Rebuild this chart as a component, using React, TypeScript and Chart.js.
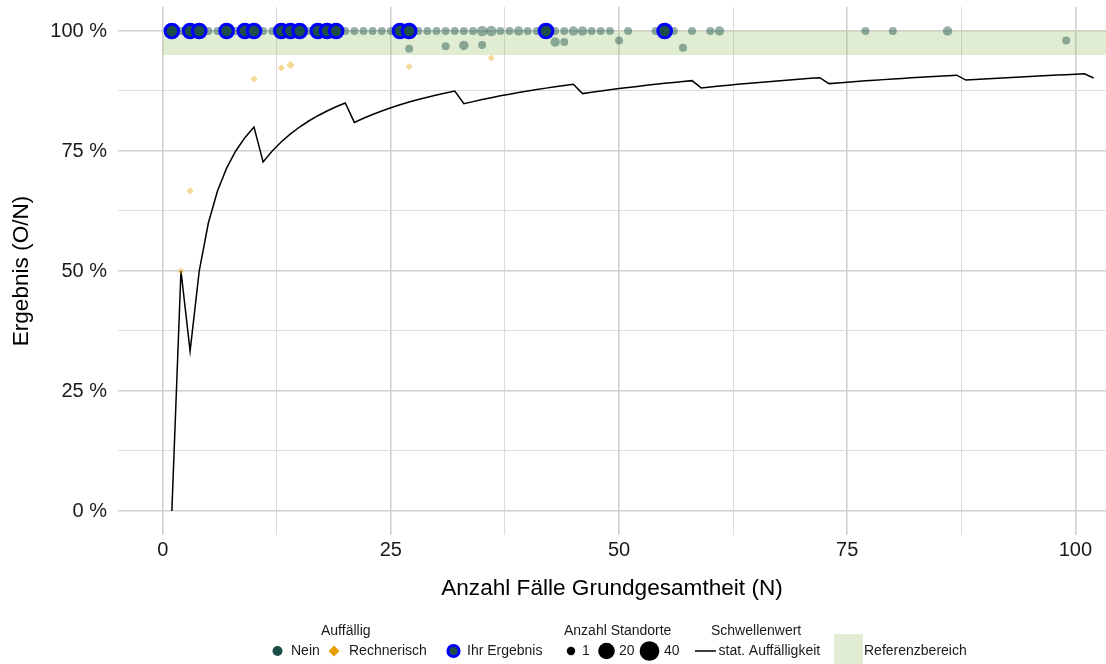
import React, { useEffect, useRef } from 'react';
import { Chart, registerables } from 'chart.js';

Chart.register(...registerables);

// ---------- data ----------
const yourN = [1, 3, 4, 7, 9, 10, 13, 14, 15, 17, 18, 19, 26, 27, 42, 55];
const yourValue = [100, 100, 100, 100, 100, 100, 100, 100, 100, 100, 100, 100, 100, 100, 100, 100];

const neinN = [2, 5, 6, 8, 11, 12, 16, 20, 21, 22, 23, 24, 25, 28, 29, 30, 31, 32, 33, 34, 35, 36, 37, 38, 39, 40, 41, 43, 44, 45, 46, 47, 48, 49, 51, 54, 56, 58, 60, 61, 77, 80, 86,
  27, 31, 33, 35, 43, 44, 50, 57, 99];
const neinValue = [100, 100, 100, 100, 100, 100, 100, 100, 100, 100, 100, 100, 100, 100, 100, 100, 100, 100, 100, 100, 100, 100, 100, 100, 100, 100, 100, 100, 100, 100, 100, 100, 100, 100, 100, 100, 100, 100, 100, 100, 100, 100, 100,
  96.3, 96.8, 97.0, 97.1, 97.7, 97.7, 98.0, 96.5, 98.0];
const neinSites = [1, 1, 1, 1, 1, 1, 1, 1, 1, 1, 1, 1, 1, 1, 1, 1, 1, 1, 1, 1, 3, 3, 1, 1, 2, 1, 1, 1, 1, 2, 2, 1, 1, 1, 1, 1, 1, 1, 1, 2, 1, 1, 2,
  1, 1, 2, 1, 2, 1, 1, 1, 1];

const rechN = [2, 3, 10, 13, 14, 27, 36];
const rechValue = [50, 66.7, 90, 92.3, 92.9, 92.6, 94.4];
const rechSites = [1, 1, 1, 1, 2, 1, 1];

const thresholdN = [1, 2, 3, 4, 5, 6, 7, 8, 9, 10, 11, 12, 13, 14, 15, 16, 17, 18, 19, 20,
  21, 22, 23, 24, 25, 26, 27, 28, 29, 30, 31, 32, 33, 34, 35, 36, 37, 38, 39, 40,
  41, 42, 43, 44, 45, 46, 47, 48, 49, 50, 51, 52, 53, 54, 55, 56, 57, 58, 59, 60,
  61, 62, 63, 64, 65, 66, 67, 68, 69, 70, 71, 72, 73, 74, 75, 76, 77, 78, 79, 80,
  81, 82, 83, 84, 85, 86, 87, 88, 89, 90, 91, 92, 93, 94, 95, 96, 97, 98, 99, 100, 101, 102];
const thresholdValue = [0, 50, 33.33, 50, 60, 66.67, 71.43, 75, 77.78, 80, 72.73, 75, 76.92, 78.57, 80, 81.25, 82.35, 83.33, 84.21, 85,
  80.95, 81.82, 82.61, 83.33, 84, 84.62, 85.19, 85.71, 86.21, 86.67, 87.1, 87.5, 84.85, 85.29, 85.71, 86.11, 86.49, 86.84, 87.18, 87.5,
  87.8, 88.1, 88.37, 88.64, 88.89, 86.96, 87.23, 87.5, 87.76, 88, 88.24, 88.46, 88.68, 88.89, 89.09, 89.29, 89.47, 89.66, 88.14, 88.33,
  88.52, 88.71, 88.89, 89.06, 89.23, 89.39, 89.55, 89.71, 89.86, 90, 90.14, 90.28, 89.04, 89.19, 89.33, 89.47, 89.61, 89.74, 89.87, 90,
  90.12, 90.24, 90.36, 90.48, 90.59, 90.7, 90.8, 89.77, 89.89, 90, 90.11, 90.22, 90.32, 90.43, 90.53, 90.63, 90.72, 90.82, 90.91, 91, 91.09, 90.2];

const xTicks = [0, 12.5, 25, 37.5, 50, 62.5, 75, 87.5, 100];
const yTicks = [0, 12.5, 25, 37.5, 50, 62.5, 75, 87.5, 100];
const refRange = [95, 100];
const sizeLegendValues = [1, 20, 40];

// ---------- styles ----------
const FONT = '"Liberation Sans", Arial, Helvetica, sans-serif';
const TEAL = '#1B4F48';
const TEAL_A = 'rgba(27,79,72,0.45)';
const ORANGE = '#E69F00';
const ORANGE_A = 'rgba(230,159,0,0.4)';
const BAND = 'rgba(157,195,108,0.3)';
const GRID_MAJOR = '#D0D0D0';
const GRID_MINOR = '#DCDCDC';

const sizeR = (n: number) => 4 * Math.pow(n, 0.25);

const bandPlugin = {
  id: 'refBand',
  beforeDatasetsDraw(chart: any) {
    const { ctx, chartArea, scales } = chart;
    const xs = scales.x, ys = scales.y;
    const x0 = xs.getPixelForValue(0);
    const y0 = ys.getPixelForValue(refRange[1]);
    const y1 = ys.getPixelForValue(refRange[0]);
    ctx.save();
    ctx.fillStyle = BAND;
    ctx.fillRect(x0, y0, chartArea.right - x0, y1 - y0);
    ctx.restore();
  },
};

const legendPlugin = {
  id: 'customLegend',
  afterDraw(chart: any) {
    const ctx = chart.ctx as CanvasRenderingContext2D;
    ctx.save();
    ctx.font = `14px ${FONT}`;
    ctx.fillStyle = '#1A1A1A';
    ctx.textBaseline = 'middle';
    ctx.textAlign = 'left';
    const ty = 631;
    const iy = 651;
    ctx.fillText('Auffällig', 321, ty);
    ctx.fillText('Anzahl Standorte', 564, ty);
    ctx.fillText('Schwellenwert', 711, ty);

    // Nein
    ctx.beginPath();
    ctx.arc(277.5, iy, 5, 0, Math.PI * 2);
    ctx.fillStyle = TEAL;
    ctx.fill();
    ctx.fillStyle = '#1A1A1A';
    ctx.fillText('Nein', 291, iy);

    // Rechnerisch
    ctx.beginPath();
    ctx.moveTo(334 - 5.5, iy);
    ctx.lineTo(334, iy - 5.5);
    ctx.lineTo(334 + 5.5, iy);
    ctx.lineTo(334, iy + 5.5);
    ctx.closePath();
    ctx.fillStyle = ORANGE;
    ctx.fill();
    ctx.fillStyle = '#1A1A1A';
    ctx.fillText('Rechnerisch', 349, iy);

    // Ihr Ergebnis
    ctx.beginPath();
    ctx.arc(453.5, iy, 5.6, 0, Math.PI * 2);
    ctx.fillStyle = TEAL;
    ctx.fill();
    ctx.lineWidth = 3;
    ctx.strokeStyle = '#0000FF';
    ctx.stroke();
    ctx.fillStyle = '#1A1A1A';
    ctx.fillText('Ihr Ergebnis', 467, iy);

    // sizes
    const sx = [571, 606.5, 649.5];
    const lx = [582, 619, 664];
    sizeLegendValues.forEach((v, i) => {
      ctx.beginPath();
      ctx.arc(sx[i], iy, sizeR(v) * (i === 0 ? 1.05 : 0.98), 0, Math.PI * 2);
      ctx.fillStyle = '#000';
      ctx.fill();
      ctx.fillStyle = '#1A1A1A';
      ctx.fillText(String(v), lx[i], iy);
    });

    // line
    ctx.beginPath();
    ctx.moveTo(695, iy);
    ctx.lineTo(716, iy);
    ctx.strokeStyle = '#000';
    ctx.lineWidth = 1.5;
    ctx.stroke();
    ctx.fillText('stat. Auffälligkeit', 718.5, iy);

    // band
    ctx.fillStyle = BAND;
    ctx.fillRect(834, 634, 29, 30);
    ctx.fillStyle = '#1A1A1A';
    ctx.fillText('Referenzbereich', 864, iy);
    ctx.restore();
  },
};

export default function App() {
  const ref = useRef<HTMLCanvasElement | null>(null);

  useEffect(() => {
    document.body.style.margin = '0';
    Chart.defaults.font.family = FONT;
    const canvas = ref.current!;
    const gridColor = (c: any) => (c.tick && c.tick.value % 25 === 0 ? GRID_MAJOR : GRID_MINOR);
    const gridWidth = (c: any) => (c.tick && c.tick.value % 25 === 0 ? 1.6 : 1.1);

    const chart = new Chart(canvas, {
      type: 'scatter',
      data: {
        datasets: [
          {
            label: 'Ihr Ergebnis',
            data: yourN.map((n, i) => ({ x: n, y: yourValue[i] })),
            backgroundColor: TEAL,
            borderColor: '#0000FF',
            borderWidth: 3.1,
            pointRadius: 6.8,
            order: 0,
          },
          {
            label: 'Rechnerisch',
            data: rechN.map((n, i) => ({ x: n, y: rechValue[i] })),
            backgroundColor: ORANGE_A,
            borderWidth: 0,
            pointStyle: 'rectRot',
            pointRadius: (c: any) => 3.6 * Math.pow(rechSites[c.dataIndex] || 1, 0.25),
            order: 1,
          },
          {
            label: 'Nein',
            data: neinN.map((n, i) => ({ x: n, y: neinValue[i] })),
            backgroundColor: TEAL_A,
            borderWidth: 0,
            pointRadius: (c: any) => sizeR(neinSites[c.dataIndex] || 1),
            order: 2,
          },
          {
            label: 'stat. Auffälligkeit',
            type: 'line',
            data: thresholdN.map((n, i) => ({ x: n, y: thresholdValue[i] })),
            borderColor: '#000',
            borderWidth: 1.5,
            pointRadius: 0,
            fill: false,
            tension: 0,
            order: 3,
          } as any,
        ],
      },
      options: {
        animation: false,
        responsive: false,
        devicePixelRatio: 1,
        layout: { autoPadding: false, padding: { top: 7, bottom: 54, left: 0, right: 0 } },
        plugins: { legend: { display: false }, tooltip: { enabled: false } },
        scales: {
          x: {
            type: 'linear',
            min: -4.9,
            max: 103.36,
            afterBuildTicks: (s: any) => { s.ticks = xTicks.map((v) => ({ value: v })); },
            afterFit: (s: any) => { s.height = 75; s.paddingLeft = 0; s.paddingRight = 0; },
            grid: { color: gridColor, lineWidth: gridWidth, drawTicks: false },
            border: { display: false },
            ticks: {
              padding: 3,
              color: '#1A1A1A',
              font: { size: 20 },
              maxRotation: 0,
              autoSkip: false,
              callback: (v: any) => (Number(v) % 25 === 0 ? String(v) : ''),
            },
            title: {
              display: true,
              text: 'Anzahl Fälle Grundgesamtheit (N)',
              color: '#000',
              font: { size: 22.6 },
              padding: { top: 0, bottom: 7.5 },
            },
          },
          y: {
            type: 'linear',
            min: -5,
            max: 105,
            afterBuildTicks: (s: any) => { s.ticks = yTicks.map((v) => ({ value: v })); },
            afterFit: (s: any) => { s.width = 118; s.paddingTop = 0; s.paddingBottom = 0; },
            grid: { color: gridColor, lineWidth: gridWidth, drawTicks: false },
            border: { display: false },
            ticks: {
              padding: 11,
              color: '#1A1A1A',
              font: { size: 20 },
              autoSkip: false,
              callback: (v: any) => (Number(v) % 25 === 0 ? `${v} %` : ''),
            },
            title: {
              display: true,
              text: 'Ergebnis (O/N)',
              color: '#000',
              font: { size: 22.6 },
              padding: { top: 8.5, bottom: 0 },
            },
          },
        },
      },
      plugins: [bandPlugin, legendPlugin],
    });
    return () => chart.destroy();
  }, []);

  return (
    <div style={{ position: 'fixed', left: 0, top: 0, width: 1106, height: 664, background: '#fff' }}>
      <canvas ref={ref} width={1106} height={664} style={{ display: 'block', width: 1106, height: 664 }} />
    </div>
  );
}
